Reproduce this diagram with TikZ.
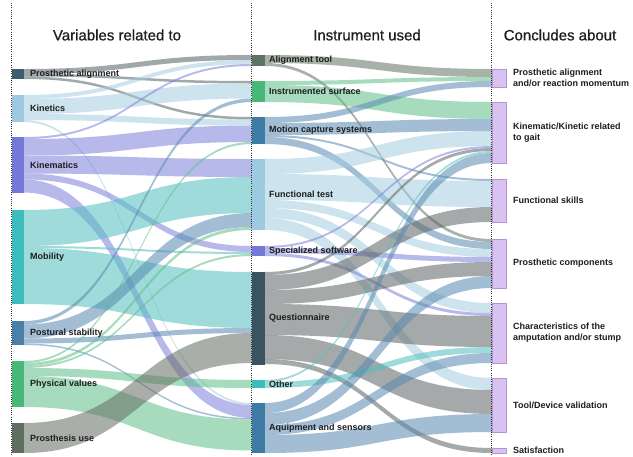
\documentclass[tikz,border=0pt]{standalone}
\usepackage{fontspec}
\setmainfont{Liberation Sans}
\newfontfamily\hfont[FakeBold=0.7]{Liberation Sans}
\usetikzlibrary{calc}
\pgfdeclarelayer{bg}
\pgfdeclarelayer{links}
\pgfsetlayers{bg,links,main}

% node colours
\definecolor{cPA}{HTML}{3F5D6D}
\definecolor{cKI}{HTML}{9ECAE1}
\definecolor{cKM}{HTML}{7478D8}
\definecolor{cMO}{HTML}{3DBDBD}
\definecolor{cPS}{HTML}{4A7FA8}
\definecolor{cPV}{HTML}{47B877}
\definecolor{cPU}{HTML}{5E6E60}
\definecolor{cAT}{HTML}{5E7360}
\definecolor{cMC}{HTML}{3E7CA6}
\definecolor{cQ}{HTML}{3B5361}
\definecolor{cR}{HTML}{D9C2EF}
\definecolor{cRb}{HTML}{B594D6}
% link colours
\definecolor{lPA}{HTML}{526165}
\definecolor{lKI}{HTML}{A4CCE0}
\definecolor{lKM}{HTML}{7E80DC}
\definecolor{lMO}{HTML}{52BFBF}
\definecolor{lPS}{HTML}{588AB1}
\definecolor{lPV}{HTML}{5DBF87}
\definecolor{lPU}{HTML}{636C63}
\definecolor{lAT}{HTML}{647364}
\definecolor{lQ}{HTML}{5D6363}
\definecolor{txt}{HTML}{1E1E1E}

\tikzset{
  vnode/.style={rectangle, inner sep=0pt, outer sep=0pt, minimum width=12pt, anchor=north west, fill=#1},
  rnode/.style={rectangle, inner sep=0pt, outer sep=0pt, minimum width=14pt, anchor=north west, fill=cR, draw=cRb, line width=0.6pt},
  lab/.style={anchor=west, inner sep=0pt, text=txt, font=\fontsize{9}{11}\selectfont\bfseries, align=left},
  head/.style={inner sep=0pt, text=txt, font=\hfont\fontsize{15}{18}\selectfont},
  flow/.style={fill=#1, fill opacity=0.55},
  sep/.style={draw=black!80, line width=0.8pt, dash pattern=on 0.9pt off 1.3pt}
}

\newcommand{\band}[6]{%
  \fill[flow=#6] ($(#1.north east)+(0,#2)$) .. controls +(114,0) and +(-114,0) .. ($(#3.north west)+(0,#4)$)
    -- ++(0,#5) .. controls +(-114,0) and +(114,0) .. ($(#1.north east)+(0,#2+#5)$) -- cycle;}

\begin{document}
\begin{tikzpicture}[x=1pt,y=-1pt]
\useasboundingbox (0,0) rectangle (633,456);
\begin{pgfonlayer}{bg}
\fill[white] (0,0) rectangle (633,456);
\end{pgfonlayer}

% separators
\draw[sep] (11,3) -- (11,456);
\draw[sep] (251,3) -- (251,456);
\draw[sep] (491,3) -- (491,456);

% headers
\node[head] (h1) at (117,35) {Variables related to};
\node[head] (h2) at (367,35) {Instrument used};
\node[head] (h3) at (560,35) {Concludes about};

% left nodes
\node[vnode=cPA, minimum height=10pt] (PA) at (12,69) {};
\node[vnode=cKI, minimum height=27pt] (KI) at (12,95) {};
\node[vnode=cKM, minimum height=56pt] (KM) at (12,137) {};
\node[vnode=cMO, minimum height=94pt] (MO) at (12,210) {};
\node[vnode=cPS, minimum height=24pt] (PS) at (12,321) {};
\node[vnode=cPV, minimum height=46pt] (PV) at (12,361) {};
\node[vnode=cPU, minimum height=30pt] (PU) at (12,423) {};

% middle nodes
\node[vnode=cAT, minimum width=13pt, minimum height=11pt] (AT) at (252,55) {};
\node[vnode=cPV, minimum width=13pt, minimum height=21pt] (IS) at (252,81) {};
\node[vnode=cMC, minimum width=13pt, minimum height=27pt] (MC) at (252,117) {};
\node[vnode=cKI, minimum width=13pt, minimum height=71pt] (FT) at (252,159) {};
\node[vnode=cKM, minimum width=13pt, minimum height=10pt] (SS) at (252,246) {};
\node[vnode=cQ, minimum width=13pt, minimum height=93pt] (Q) at (252,272) {};
\node[vnode=cMO, minimum width=13pt, minimum height=8pt] (OT) at (252,380) {};
\node[vnode=cMC, minimum width=13pt, minimum height=50pt] (AQ) at (252,403) {};

% right nodes
\node[rnode, minimum height=18pt] (R1) at (492,69) {};
\node[rnode, minimum height=61pt] (R2) at (492,102) {};
\node[rnode, minimum height=43pt] (R3) at (492,179) {};
\node[rnode, minimum height=49pt] (R4) at (492,239) {};
\node[rnode, minimum height=60pt] (R5) at (492,303) {};
\node[rnode, minimum height=54pt] (R6) at (492,378) {};
\node[rnode, minimum height=5pt] (R7) at (492,448) {};

\begin{pgfonlayer}{links}
% left -> middle
\band{PA}{0}{AT}{0}{5}{lPA}
\band{PA}{5}{IS}{0}{2.5}{lPA}
\band{PA}{7.5}{MC}{0}{2.5}{lPA}
\band{KI}{0}{AT}{5}{4}{lKI}
\band{KI}{4}{IS}{2.5}{15}{lKI}
\band{KI}{19}{MC}{2.5}{6}{lKI}
\band{KI}{25}{AQ}{0}{2}{lKI}
\band{KM}{0}{AT}{9}{2}{lKM}
\band{KM}{2}{MC}{8.5}{16.5}{lKM}
\band{KM}{18.5}{FT}{0}{18}{lKM}
\band{KM}{36.5}{SS}{0}{6}{lKM}
\band{KM}{42.5}{AQ}{2}{13}{lKM}
\band{MO}{0}{FT}{18}{36}{lMO}
\band{MO}{36}{SS}{6}{2}{lMO}
\band{MO}{38}{Q}{0}{56}{lMO}
\band{PS}{0}{IS}{17.5}{3.5}{lPS}
\band{PS}{3.5}{FT}{54}{14}{lPS}
\band{PS}{17.5}{Q}{56}{5}{lPS}
\band{PS}{22.5}{AQ}{15}{1.5}{lPS}
\band{PV}{0}{MC}{25}{2}{lPV}
\band{PV}{2}{FT}{68}{3}{lPV}
\band{PV}{5}{SS}{8}{2}{lPV}
\band{PV}{7}{OT}{0}{8}{lPV}
\band{PV}{15}{AQ}{16.5}{31}{lPV}
\band{PU}{0}{Q}{61}{30}{lPU}
% middle -> right
\band{AT}{0}{R1}{0}{8}{lAT}
\band{AT}{8}{R4}{0}{3}{lAT}
\band{IS}{0}{R1}{8}{4}{lPV}
\band{IS}{4}{R2}{0}{17}{lPV}
\band{MC}{0}{R1}{12}{6}{lPS}
\band{MC}{6}{R2}{17}{12}{lPS}
\band{MC}{18}{R3}{0}{2}{lPS}
\band{MC}{20}{R4}{3}{7}{lPS}
\band{FT}{0}{R2}{29}{15}{lKI}
\band{FT}{15}{R3}{2}{26}{lKI}
\band{FT}{41}{R4}{10}{8}{lKI}
\band{FT}{49}{R5}{0}{10}{lKI}
\band{FT}{59}{R6}{0}{12}{lKI}
\band{SS}{0}{R2}{44}{2}{lKM}
\band{SS}{2}{R4}{18}{5}{lKM}
\band{SS}{7}{R5}{10}{3}{lKM}
\band{Q}{0}{R2}{46}{3}{lQ}
\band{Q}{3}{R3}{28}{15}{lQ}
\band{Q}{18}{R4}{23}{14}{lQ}
\band{Q}{32}{R5}{13}{31}{lQ}
\band{Q}{63}{R6}{12}{24}{lQ}
\band{Q}{87}{R7}{0}{5}{lQ}
\band{OT}{0}{R2}{49}{2}{lMO}
\band{OT}{2}{R5}{44}{6}{lMO}
\band{AQ}{0}{R2}{51}{10}{lPS}
\band{AQ}{10}{R4}{37}{12}{lPS}
\band{AQ}{22}{R5}{50}{10}{lPS}
\band{AQ}{32}{R6}{36}{18}{lPS}
\end{pgfonlayer}

% labels
\node[lab] (PAt) at ($(PA.east)+(6,0)$) {Prosthetic alignment};
\node[lab] (KIt) at ($(KI.east)+(6,0)$) {Kinetics};
\node[lab] (KMt) at ($(KM.east)+(6,0)$) {Kinematics};
\node[lab] (MOt) at ($(MO.east)+(6,0)$) {Mobility};
\node[lab] (PSt) at ($(PS.east)+(6,0)$) {Postural stability};
\node[lab] (PVt) at ($(PV.east)+(6,0)$) {Physical values};
\node[lab] (PUt) at ($(PU.east)+(6,0)$) {Prosthesis use};

\node[lab] (ATt) at ($(AT.east)+(4,0)$) {Alignment tool};
\node[lab] (ISt) at ($(IS.east)+(4,0)$) {Instrumented surface};
\node[lab] (MCt) at ($(MC.east)+(4,0)$) {Motion capture systems};
\node[lab] (FTt) at ($(FT.east)+(4,0)$) {Functional test};
\node[lab] (SSt) at ($(SS.east)+(4,0)$) {Specialized software};
\node[lab] (Qt) at ($(Q.east)+(4,0)$) {Questionnaire};
\node[lab] (OTt) at ($(OT.east)+(4,0)$) {Other};
\node[lab] (AQt) at ($(AQ.east)+(4,0)$) {Aquipment and sensors};

\node[lab] (R1t) at ($(R1.east)+(7,0)$) {Prosthetic alignment\\and/or reaction momentum};
\node[lab] (R2t) at ($(R2.east)+(7,0)$) {Kinematic/Kinetic related\\to gait};
\node[lab] (R3t) at ($(R3.east)+(7,0)$) {Functional skills};
\node[lab] (R4t) at ($(R4.east)+(7,0)$) {Prosthetic components};
\node[lab] (R5t) at ($(R5.east)+(7,0)$) {Characteristics of the\\amputation and/or stump};
\node[lab] (R6t) at ($(R6.east)+(7,0)$) {Tool/Device validation};
\node[lab] (R7t) at ($(R7.east)+(7,0)$) {Satisfaction};
\end{tikzpicture}
\end{document}
